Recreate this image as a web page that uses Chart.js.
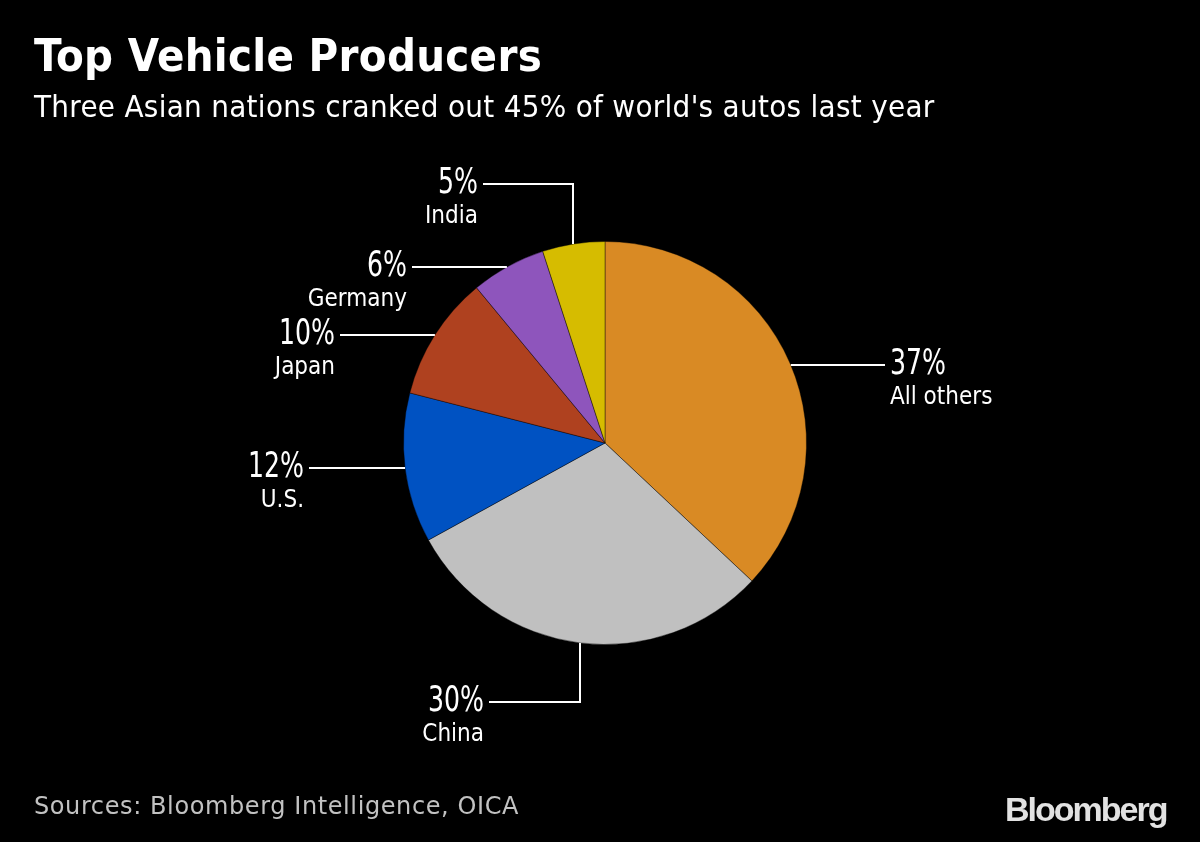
<!DOCTYPE html>
<html>
<head>
<meta charset="utf-8">
<script src="https://cdn.jsdelivr.net/npm/chart.js@4.4.1/dist/chart.umd.min.js"></script>
<style>
  html, body { margin:0; padding:0; background:#000; width:1200px; height:842px; overflow:hidden; }
  #wrap { position:relative; width:1200px; height:842px; }
  canvas { position:absolute; left:0; top:0; }
  .t { position:absolute; white-space:nowrap; line-height:1; font-family:"DejaVu Sans Condensed","DejaVu Sans",sans-serif; font-stretch:condensed; }
  #title { left:34px; top:33px; font-size:45px; font-weight:bold; color:#fff; letter-spacing:0.3px; }
  #subtitle { left:34px; top:91px; font-size:31px; color:#fff; letter-spacing:0.3px; }
  #source { left:34px; top:794px; font-size:24px; color:#c2c2c2; font-family:"DejaVu Sans",sans-serif; font-stretch:normal; letter-spacing:0.6px; }
  #logo { position:absolute; left:1005px; top:792px; font-family:"Liberation Sans",Arial,sans-serif; font-weight:bold; font-size:34px; letter-spacing:-2px; color:#e2e2e2; line-height:1; white-space:nowrap; }
</style>
</head>
<body>
<div id="wrap">
  <canvas id="c" width="1200" height="842"></canvas>
  <div class="t" id="title">Top Vehicle Producers</div>
  <div class="t" id="subtitle">Three Asian nations cranked out 45% of world's autos last year</div>
  <div class="t" id="source">Sources: Bloomberg Intelligence, OICA</div>
  <div id="logo">Bloomberg</div>
</div>
<script>
// ---- data ----
const categories = ['All others', 'China', 'U.S.', 'Japan', 'Germany', 'India'];
const shares = [37, 30, 12, 10, 6, 5];
const pctLabels = shares.map(v => v + '%');

// ---- styles ----
const sliceColors = ['#D98A24', '#C0C0C0', '#0052C2', '#AF411F', '#8E55BC', '#D6BC00'];

// leader line geometry (relative to pie centre); h = horizontal, v = vertical with elbow
const leaders = [
  { type: 'h', d: -78,  end: 280 },
  { type: 'v', d: -25,  turn: 259,  end: -116 },
  { type: 'h', d: 25,   end: -296 },
  { type: 'h', d: -108, end: -265 },
  { type: 'h', d: -176, end: -193 },
  { type: 'v', d: -32,  turn: -259, end: -122 }
];

const FONT = '"DejaVu Sans Condensed","DejaVu Sans",sans-serif';

const labelPlugin = {
  id: 'leaderLabels',
  afterDatasetsDraw(chart) {
    const ctx = chart.ctx;
    const meta = chart.getDatasetMeta(0);
    meta.data.forEach((arc, i) => {
      const cx = arc.x, cy = arc.y, r = arc.outerRadius;
      const L = leaders[i];
      let lineY, endX;
      ctx.save();
      ctx.strokeStyle = '#ffffff';
      ctx.lineWidth = 2;
      ctx.beginPath();
      if (L.type === 'h') {
        lineY = cy + L.d;
        const dx = Math.sqrt(r * r - L.d * L.d) * Math.sign(L.end);
        endX = cx + L.end;
        ctx.moveTo(cx + dx, lineY);
        ctx.lineTo(endX, lineY);
      } else {
        const x = cx + L.d;
        const dy = Math.sqrt(r * r - L.d * L.d) * Math.sign(L.turn);
        lineY = cy + L.turn;
        endX = cx + L.end;
        ctx.moveTo(x, cy + dy);
        ctx.lineTo(x, lineY);
        ctx.lineTo(endX, lineY);
      }
      ctx.stroke();
      const right = L.end > 0;
      const tx = right ? endX + 5 : endX - 5;
      ctx.fillStyle = '#ffffff';
      ctx.textBaseline = 'alphabetic';
      ctx.textAlign = right ? 'left' : 'right';
      // percentage (narrow)
      ctx.save();
      ctx.translate(tx, lineY + 9);
      ctx.scale(0.8, 1);
      ctx.font = '35px ' + FONT;
      ctx.fillText(pctLabels[i], 0, 0);
      ctx.restore();
      // category
      ctx.font = '24px ' + FONT;
      ctx.fillText(categories[i], tx, lineY + 39);
      ctx.restore();
    });
  }
};

new Chart(document.getElementById('c'), {
  type: 'pie',
  data: {
    labels: categories,
    datasets: [{
      data: shares,
      backgroundColor: sliceColors,
      borderColor: 'rgba(0,0,0,0.4)',
      borderWidth: 1
    }]
  },
  options: {
    responsive: false,
    animation: false,
    layout: { padding: { left: 403, right: 393, top: 241, bottom: 197 } },
    plugins: { legend: { display: false }, tooltip: { enabled: false }, title: { display: false } }
  },
  plugins: [labelPlugin]
});
</script>
</body>
</html>
